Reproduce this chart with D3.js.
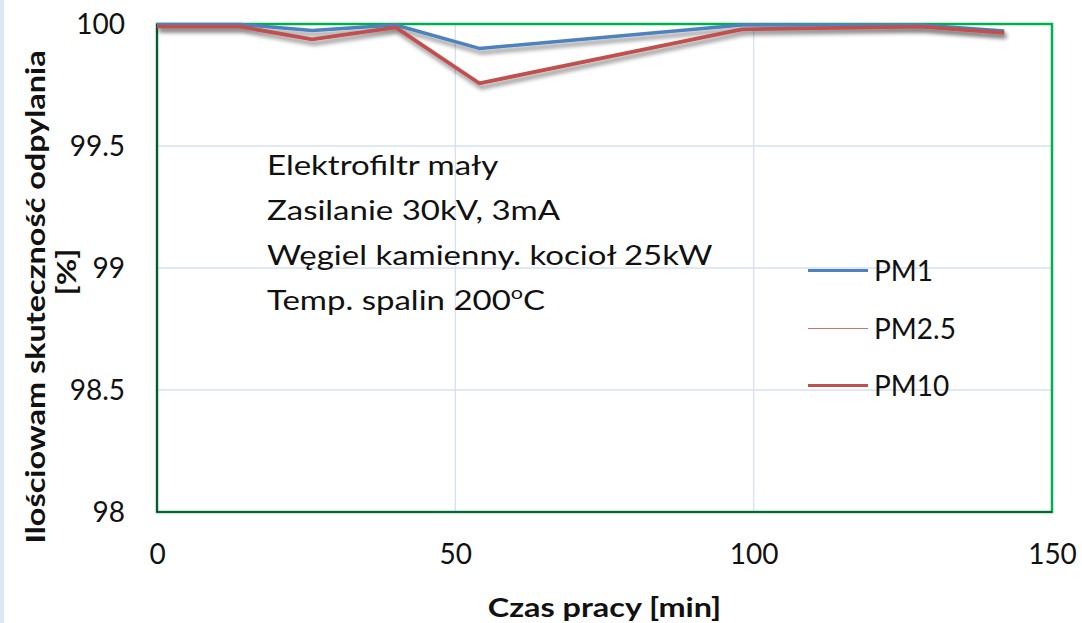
<!DOCTYPE html>
<html>
<head>
<meta charset="utf-8">
<script src="https://cdn.jsdelivr.net/npm/d3@7"></script>
<style>
  body { margin: 0; background: #fff; }
  text { font-family: Lato, "Open Sans", sans-serif; fill: #111; }
</style>
</head>
<body>
<script>
var width = 1082;
var height = 623;

// time [min]
var czas = [0, 14, 26, 40, 54, 98, 128, 142];
var pm1 = [99.998, 99.998, 99.973, 99.996, 99.900, 99.996, 99.996, 99.971];
var pm25 = [99.989, 99.989, 99.937, 99.986, 99.757, 99.978, 99.989, 99.964];
var pm10 = [99.989, 99.989, 99.937, 99.986, 99.757, 99.978, 99.989, 99.964];
var xTicks = [0, 50, 100, 150];
var yTicks = [98, 98.5, 99, 99.5, 100];
var notes = ["Elektrofiltr mały", "Zasilanie 30kV, 3mA", "Węgiel kamienny. kocioł 25kW", "Temp. spalin 200"];
var seriesNames = ["PM1", "PM2.5", "PM10"];

var margin = { left: 157, right: 30, top: 24, bottom: 111 };
var stretch = 1.2; // the original text is wider than Lato

var svg = d3.select("body").append("svg")
    .attr("width", width)
    .attr("height", height);

var defs = svg.append("defs");
var f = defs.append("filter").attr("id", "shadow")
    .attr("x", "-5%").attr("y", "-50%").attr("width", "110%").attr("height", "300%");
f.append("feDropShadow")
    .attr("dx", 2).attr("dy", 4).attr("stdDeviation", 2)
    .attr("flood-color", "#000").attr("flood-opacity", 0.45);

// faint frame line at the left edge
svg.append("rect").attr("x", 0).attr("y", 0).attr("width", 4).attr("height", height)
    .style("fill", "#dde7f5");

var x = d3.scaleLinear().domain([0, 150]).range([margin.left, width - margin.right]);
var y = d3.scaleLinear().domain([98, 100]).range([height - margin.bottom, margin.top]);

// gridlines
svg.append("g").selectAll("line")
    .data(yTicks.slice(1, -1))
    .enter().append("line")
    .attr("x1", x(0)).attr("x2", x(150))
    .attr("y1", function (d) { return y(d); })
    .attr("y2", function (d) { return y(d); })
    .style("stroke", "#d6e1f2").style("stroke-width", 1.3);
svg.append("g").selectAll("line")
    .data(xTicks.slice(1, -1))
    .enter().append("line")
    .attr("y1", y(98)).attr("y2", y(100))
    .attr("x1", function (d) { return x(d); })
    .attr("x2", function (d) { return x(d); })
    .style("stroke", "#d6e1f2").style("stroke-width", 1.3);

// axes (labels only)
var xAxis = svg.append("g")
    .attr("transform", "translate(0," + (y(98) + 42) + ")")
    .call(d3.axisBottom(x).tickValues(xTicks).tickSize(0).tickFormat(d3.format("d")));
xAxis.select(".domain").remove();
xAxis.selectAll("text").style("font-size", "28px").attr("dy", "0.35em").attr("y", 0);

var yAxis = svg.append("g")
    .attr("transform", "translate(125,0)")
    .call(d3.axisLeft(y).tickValues(yTicks).tickSize(0).tickFormat(function (d) { return String(d); }));
yAxis.select(".domain").remove();
yAxis.selectAll("text").style("font-size", "28px").attr("x", 0).attr("dy", "0.34em");

// plot border
svg.append("rect")
    .attr("x", x(0)).attr("y", y(100))
    .attr("width", x(150) - x(0)).attr("height", y(98) - y(100))
    .style("fill", "none").style("stroke", "#00b050").style("stroke-width", 2.5);
svg.append("path")
    .attr("d", "M" + x(0) + "," + y(100) + "V" + y(98) + "H" + x(150))
    .style("fill", "none").style("stroke", "#1a1a1a").style("stroke-width", 1.2);

// series
var line = d3.line()
    .x(function (d) { return x(d[0]); })
    .y(function (d) { return y(d[1]); });

var series = [
    { name: "PM1", values: pm1, color: "#4f81bd", w: 3.5 },
    { name: "PM2.5", values: pm25, color: "#c0504d", w: 1 },
    { name: "PM10", values: pm10, color: "#c0504d", w: 3.8 }
];

var lines = svg.append("g");
series.forEach(function (s) {
    lines.append("path")
        .datum(czas.map(function (t, i) { return [t, s.values[i]]; }))
        .attr("d", line)
        .style("fill", "none")
        .style("stroke", s.color)
        .style("stroke-width", s.w)
        .style("stroke-linejoin", "round")
        .attr("filter", s.w > 2 ? "url(#shadow)" : null);
});

// legend
var legend = svg.append("g");
series.forEach(function (s, i) {
    var ly = Math.round(270 + i * 57.5) + 0.5;
    legend.append("line")
        .attr("x1", 808).attr("x2", 868).attr("y1", ly).attr("y2", ly)
        .style("stroke", s.color).style("stroke-width", s.w > 2 ? 3 : 1)
        .style("opacity", s.w > 2 ? 1 : 0.8);
    legend.append("text")
        .attr("x", 874).attr("y", ly + 10)
        .style("font-size", "28px")
        .text(seriesNames[i]);
});

// annotation
var note = svg.append("g");
notes.forEach(function (t, i) {
    var tx = note.append("g")
        .attr("transform", "translate(267," + (174.5 + i * 45) + ") scale(" + stretch + ",1)")
        .append("text")
        .style("font-size", "27.5px")
        .text(t);
    if (i === notes.length - 1) {
        tx.append("tspan").attr("dy", -11).style("font-size", "18px").text("o");
        tx.append("tspan").attr("dy", 11).text("C");
    }
});

// axis titles
svg.append("g")
    .attr("transform", "translate(" + x(75) + ",617) scale(" + stretch + ",1)")
    .append("text")
    .attr("text-anchor", "middle")
    .style("font-size", "27px").style("font-weight", "bold")
    .text("Czas pracy [min]");

svg.append("g")
    .attr("transform", "translate(45,297) rotate(-90) scale(" + stretch + ",1)")
    .append("text")
    .attr("text-anchor", "middle")
    .style("font-size", "27px").style("font-weight", "bold")
    .text("Ilościowam skuteczność odpylania");
svg.append("g")
    .attr("transform", "translate(76,272) rotate(-90) scale(" + stretch + ",1)")
    .append("text")
    .attr("text-anchor", "middle")
    .style("font-size", "27px").style("font-weight", "bold")
    .text("[%]");
</script>
</body>
</html>
